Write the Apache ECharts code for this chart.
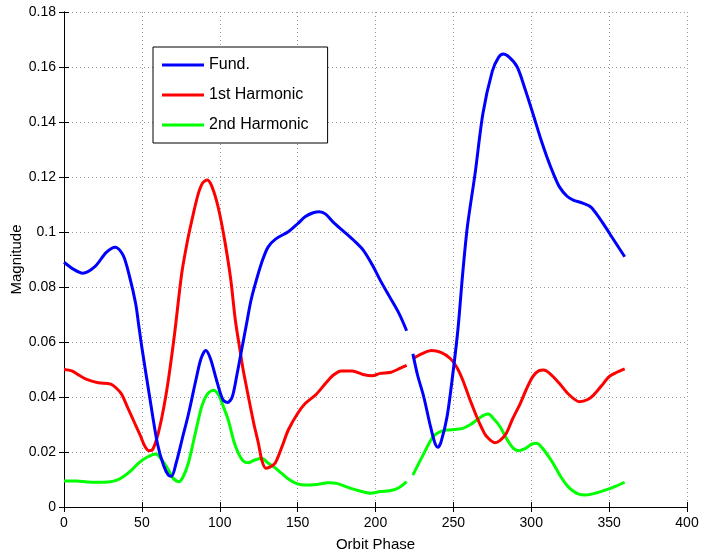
<!DOCTYPE html>
<html>
<head>
<meta charset="utf-8">
<script src="https://cdn.jsdelivr.net/npm/echarts@6/dist/echarts.min.js"></script>
<style>
    html, body { margin: 0; padding: 0; background: #fff; }
    #chart { width: 706px; height: 554px; }
</style>
</head>
<body>
<div id="chart"></div>
<script>
// values; null marks the break near 222 deg
const fundPhase = [0, 6, 12, 20, 27, 33, 38, 42, 46, 48, 50, 55, 60, 64, 67, 69, 72, 76, 80, 85, 88, 91, 94, 98, 102, 105, 108, 111, 114, 117, 120, 123, 127, 131, 136, 144, 150, 155, 160, 164, 168, 173, 179, 186, 192, 198, 203, 209, 215, 220,
    222, 224, 227, 231, 235, 238, 240, 242, 246, 250, 253, 256, 259, 264, 269, 275, 279, 282, 286, 291, 296, 301, 306, 310, 314, 318, 323, 327, 333, 338, 342, 346, 353, 360];
const fundMag = [0.089, 0.0865, 0.085, 0.0875, 0.0925, 0.0945, 0.0915, 0.084, 0.074, 0.066, 0.058, 0.04, 0.023, 0.015, 0.0116, 0.0112, 0.016, 0.025, 0.034, 0.047, 0.054, 0.0569, 0.054, 0.046, 0.039, 0.038, 0.040, 0.048, 0.057, 0.066, 0.075, 0.0815, 0.089, 0.0945, 0.0975, 0.1001, 0.103, 0.1056, 0.107, 0.1074, 0.1065, 0.1035, 0.1005, 0.097, 0.0935, 0.088, 0.0825, 0.0765, 0.0705, 0.0641,
    null, 0.0557, 0.048, 0.040, 0.030, 0.0235, 0.0217, 0.0235, 0.033, 0.050, 0.065, 0.085, 0.102, 0.1215, 0.1432, 0.1585, 0.1635, 0.1647, 0.1635, 0.160, 0.152, 0.1432, 0.134, 0.1274, 0.1215, 0.1165, 0.113, 0.1116, 0.1105, 0.1092, 0.1065, 0.1032, 0.0971, 0.091];

const harm1Phase = [0, 5, 10, 15, 22, 30, 34, 37, 41, 45, 49, 52, 54.6, 57, 60.5, 64, 67, 71, 75.6, 79, 82, 86, 89, 92, 95, 99, 103, 107, 110, 113, 115, 118.4, 122, 124.8, 127, 129.5, 132, 135.5, 140, 144, 150, 155, 162, 168, 173, 178, 185, 192, 198, 203, 210, 216, 220,
    222, 224, 230, 236, 242, 248, 252, 256, 260, 265, 268, 271.4, 276.7, 280, 284, 288, 293, 297, 301, 305, 308, 312, 318, 324, 331, 336, 340, 345, 350, 355, 360];
const harm1Mag = [0.050, 0.0495, 0.0478, 0.0463, 0.0452, 0.0447, 0.043, 0.041, 0.036, 0.031, 0.026, 0.022, 0.0205, 0.021, 0.0268, 0.036, 0.0462, 0.063, 0.085, 0.096, 0.104, 0.1135, 0.1178, 0.1189, 0.1165, 0.109, 0.0975, 0.083, 0.068, 0.057, 0.050, 0.0401, 0.030, 0.0232, 0.017, 0.0141, 0.0145, 0.0159, 0.022, 0.028, 0.034, 0.0377, 0.041, 0.045, 0.048, 0.0495, 0.0495, 0.0482, 0.0477, 0.0486, 0.049, 0.0505, 0.0515,
    null, 0.054, 0.0558, 0.0569, 0.0562, 0.054, 0.051, 0.0462, 0.040, 0.0328, 0.029, 0.0256, 0.0234, 0.0242, 0.0268, 0.032, 0.0377, 0.043, 0.0474, 0.0496, 0.0498, 0.0485, 0.045, 0.041, 0.0383, 0.039, 0.0407, 0.044, 0.0474, 0.049, 0.0502];

const harm2Phase = [0, 8, 15, 22, 28.5, 34, 38, 43, 47.7, 53, 58.9, 63, 67, 70, 73.8, 76.5, 79.8, 84, 88.4, 92, 96, 99, 102, 105.5, 109, 112, 115, 118.3, 122, 126.9, 131, 135, 139.8, 145, 150, 155, 162, 170, 175, 182, 190, 197, 203, 210, 215, 220,
    222, 224, 230, 237, 242, 246, 251, 256, 261, 265, 269, 272.4, 276, 280, 284, 288.5, 292, 296, 300, 303.5, 307, 311, 314, 319, 323, 326, 330, 335, 341, 348, 354, 360];
const harm2Mag = [0.0095, 0.0095, 0.0091, 0.009, 0.0091, 0.0098, 0.011, 0.0132, 0.0159, 0.018, 0.0193, 0.017, 0.0135, 0.0105, 0.0092, 0.011, 0.0159, 0.026, 0.0365, 0.041, 0.0425, 0.041, 0.037, 0.0316, 0.024, 0.0195, 0.0168, 0.0161, 0.017, 0.0177, 0.016, 0.0145, 0.0122, 0.0098, 0.0084, 0.008, 0.0082, 0.0088, 0.0086, 0.0072, 0.0058, 0.005, 0.0056, 0.006, 0.007, 0.0092,
    null, 0.0116, 0.0183, 0.0256, 0.0275, 0.028, 0.0282, 0.0286, 0.030, 0.0316, 0.0332, 0.0338, 0.032, 0.0292, 0.025, 0.0213, 0.0205, 0.0212, 0.0228, 0.0232, 0.0215, 0.0185, 0.0159, 0.011, 0.0078, 0.0062, 0.0048, 0.0044, 0.005, 0.0062, 0.0075, 0.009];

const seriesNames = ["Fund.", "1st Harmonic", "2nd Harmonic"];
const seriesColors = ["#0000ff", "#ff0000", "#00ff00"];

function pairs(xs, ys) {
    return xs.map((x, i) => [x, ys[i] === null ? "-" : ys[i]]);
}

const font = "Liberation Sans, Arial, sans-serif";
const chart = echarts.init(document.getElementById("chart"));

// matlab style box: ticks inside on all four sides
const tickStyle = { show: true, inside: true, length: 5, lineStyle: { color: "#000" } };
const lineStyle = { show: true, lineStyle: { color: "#000", width: 1 } };
const gridLine = { show: true, lineStyle: { color: "#9a9a9a", type: [1, 3], width: 1 } };

const option = {
    animation: false,
    backgroundColor: "#fff",
    grid: { left: 64, right: 19, top: 12, bottom: 47, outerBoundsMode: "none" },
    legend: {
        data: seriesNames,
        orient: "vertical",
        left: 153,
        top: 47,
        padding: [9, 19, 9, 9],
        itemGap: 12,
        itemWidth: 42,
        itemHeight: 3,
        itemStyle: { borderWidth: 0 },
        icon: "rect",
        borderColor: "#000",
        borderWidth: 1,
        backgroundColor: "#fff",
        textStyle: { fontFamily: font, fontSize: 16, color: "#000", lineHeight: 18 },
    },
    xAxis: [
        {
            type: "value",
            min: 0,
            max: 400,
            interval: 50,
            name: "Orbit Phase",
            nameLocation: "middle",
            nameGap: 30,
            nameMoveOverlap: false,
            nameTextStyle: { fontFamily: font, fontSize: 15, color: "#000" },
            axisLine: lineStyle,
            axisTick: tickStyle,
            axisLabel: { fontFamily: font, fontSize: 14, color: "#000", margin: 9 },
            splitLine: gridLine,
        },
        {
            type: "value",
            position: "top",
            min: 0,
            max: 400,
            interval: 50,
            axisLine: lineStyle,
            axisTick: tickStyle,
            axisLabel: { show: false },
            splitLine: { show: false },
        },
    ],
    yAxis: [
        {
            type: "value",
            min: 0,
            max: 0.18,
            interval: 0.02,
            name: "Magnitude",
            nameLocation: "middle",
            nameGap: 40,
            nameMoveOverlap: false,
            nameTextStyle: { fontFamily: font, fontSize: 15, color: "#000" },
            axisLine: lineStyle,
            axisTick: tickStyle,
            axisLabel: {
                fontFamily: font,
                fontSize: 14,
                color: "#000",
                margin: 8,
                formatter: (v) => String(+v.toFixed(2)),
            },
            splitLine: gridLine,
        },
        {
            type: "value",
            position: "right",
            min: 0,
            max: 0.18,
            interval: 0.02,
            axisLine: lineStyle,
            axisTick: tickStyle,
            axisLabel: { show: false },
            splitLine: { show: false },
        },
    ],
    series: [
        { data: pairs(fundPhase, fundMag) },
        { data: pairs(harm1Phase, harm1Mag) },
        { data: pairs(harm2Phase, harm2Mag) },
    ].map((s, i) => ({
        name: seriesNames[i],
        type: "line",
        data: s.data,
        smooth: 0.3,
        showSymbol: false,
        connectNulls: false,
        color: seriesColors[i],
        lineStyle: { width: 3, color: seriesColors[i] },
        z: 3 - i,
    })),
};

chart.setOption(option);
</script>
</body>
</html>
